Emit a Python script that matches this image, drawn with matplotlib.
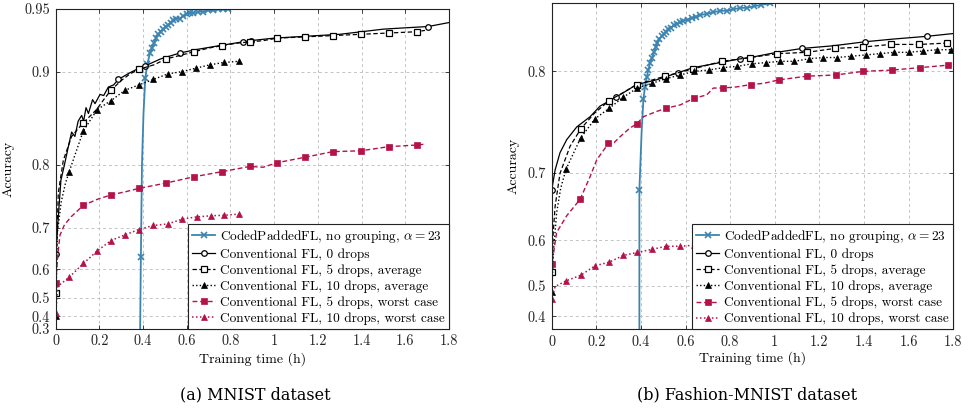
import numpy as np
import matplotlib.pyplot as plt
from matplotlib.lines import Line2D
from matplotlib.ticker import FixedLocator, FuncFormatter, NullLocator

plt.rcParams['font.family'] = 'cmr10'
plt.rcParams['mathtext.fontset'] = 'cm'
plt.rcParams['axes.formatter.use_mathtext'] = True
plt.rcParams['axes.unicode_minus'] = False

labels = ['CodedPaddedFL, no grouping, $\\alpha = 23$',
          'Conventional FL, 0 drops',
          'Conventional FL, 5 drops, average',
          'Conventional FL, 10 drops, average',
          'Conventional FL, 5 drops, worst case',
          'Conventional FL, 10 drops, worst case']

# ---- (a) MNIST ----
a_coded_t = [0.386, 0.390, 0.395, 0.402, 0.410, 0.420, 0.432, 0.441, 0.450, 0.460, 0.470, 0.481, 0.493, 0.504,
             0.515, 0.527, 0.538, 0.553, 0.569, 0.584, 0.600, 0.615, 0.630, 0.653, 0.676, 0.698, 0.721, 0.745,
             0.768, 0.790]
a_coded_acc = [0.10, 0.635, 0.80, 0.86, 0.894, 0.907, 0.916, 0.920, 0.924, 0.928, 0.931, 0.933, 0.935, 0.937,
               0.938, 0.940, 0.942, 0.943, 0.943, 0.945, 0.946, 0.947, 0.947, 0.948, 0.948, 0.949, 0.949, 0.950,
               0.950, 0.950]
a_d0_t = [0.0, 0.0, 0.012, 0.024, 0.04, 0.058, 0.073, 0.088, 0.103, 0.119, 0.128, 0.139, 0.15, 0.169, 0.18,
          0.203, 0.22, 0.241, 0.265, 0.287, 0.33, 0.37, 0.409, 0.48, 0.569, 0.65, 0.75, 0.856, 0.892, 1.0, 1.1,
          1.2, 1.3, 1.4, 1.5, 1.6, 1.705, 1.8]
a_d0_acc = [0.10, 0.642, 0.72, 0.779, 0.80, 0.823, 0.840, 0.835, 0.852, 0.858, 0.852, 0.866, 0.860, 0.874,
            0.870, 0.879, 0.878, 0.886, 0.888, 0.893, 0.898, 0.902, 0.905, 0.911, 0.916, 0.919, 0.922, 0.925,
            0.926, 0.928, 0.929, 0.930, 0.931, 0.933, 0.935, 0.936, 0.937, 0.940]
a_d5_t = [0.0, 0.0, 0.006, 0.012, 0.035, 0.073, 0.1, 0.126, 0.187, 0.22, 0.253, 0.3, 0.34, 0.380, 0.45, 0.506,
          0.57, 0.634, 0.7, 0.761, 0.83, 0.888, 0.95, 1.014, 1.142, 1.269, 1.396, 1.524, 1.652, 1.69]
a_d5_acc = [0.10, 0.518, 0.68, 0.76, 0.806, 0.835, 0.843, 0.850, 0.864, 0.874, 0.883, 0.892, 0.898, 0.902,
            0.906, 0.911, 0.914, 0.917, 0.920, 0.922, 0.924, 0.925, 0.926, 0.928, 0.929, 0.930, 0.931, 0.932,
            0.933, 0.934]
a_d10_t = [0.0, 0.0, 0.008, 0.025, 0.045, 0.062, 0.126, 0.190, 0.253, 0.317, 0.381, 0.447, 0.513, 0.577, 0.641,
           0.706, 0.770, 0.838]
a_d10_acc = [0.10, 0.40, 0.69, 0.745, 0.775, 0.791, 0.841, 0.864, 0.873, 0.883, 0.888, 0.893, 0.898, 0.900,
             0.903, 0.906, 0.908, 0.909]
a_w5_t = [0.0, 0.0, 0.01, 0.02, 0.04, 0.07, 0.126, 0.19, 0.253, 0.32, 0.380, 0.506, 0.634, 0.761, 0.888, 0.95,
          1.014, 1.142, 1.269, 1.396, 1.524, 1.652, 1.69]
a_w5_acc = [0.10, 0.558, 0.64, 0.685, 0.705, 0.720, 0.740, 0.750, 0.757, 0.762, 0.767, 0.775, 0.784, 0.791,
            0.798, 0.797, 0.803, 0.810, 0.817, 0.818, 0.823, 0.825, 0.826]
a_w10_t = [0.0, 0.0, 0.01, 0.062, 0.127, 0.190, 0.253, 0.317, 0.380, 0.447, 0.514, 0.579, 0.645, 0.709, 0.772,
           0.837]
a_w10_acc = [0.10, 0.419, 0.545, 0.576, 0.617, 0.649, 0.673, 0.685, 0.696, 0.704, 0.707, 0.716, 0.720, 0.722,
             0.723, 0.725]

# ---- (b) Fashion-MNIST ----
b_coded_t = [0.393, 0.393, 0.396, 0.403, 0.411, 0.418, 0.426, 0.433, 0.441, 0.450, 0.459, 0.466, 0.474, 0.483,
             0.493, 0.503, 0.513, 0.523, 0.534, 0.547, 0.561, 0.575, 0.590, 0.609, 0.628, 0.646, 0.665, 0.695,
             0.725, 0.755, 0.785, 0.815, 0.845, 0.875, 0.905, 0.94, 0.98]
b_coded_acc = [0.10, 0.678, 0.70, 0.745, 0.776, 0.787, 0.795, 0.801, 0.807, 0.811, 0.815, 0.819, 0.822, 0.825,
               0.827, 0.829, 0.830, 0.832, 0.833, 0.835, 0.836, 0.837, 0.838, 0.839, 0.840, 0.841, 0.842, 0.843,
               0.844, 0.845, 0.845, 0.846, 0.847, 0.847, 0.848, 0.849, 0.850]
b_d0_t = [0.0, 0.0, 0.015, 0.037, 0.067, 0.112, 0.172, 0.217, 0.288, 0.381, 0.471, 0.568, 0.635, 0.755, 0.845,
          0.89, 1.009, 1.124, 1.263, 1.406, 1.533, 1.682, 1.8]
b_d0_acc = [0.10, 0.678, 0.703, 0.723, 0.737, 0.750, 0.760, 0.770, 0.778, 0.789, 0.793, 0.799, 0.803, 0.807,
            0.810, 0.811, 0.815, 0.818, 0.820, 0.823, 0.825, 0.827, 0.829]
b_d5_t = [0.0, 0.0, 0.006, 0.015, 0.037, 0.082, 0.130, 0.19, 0.258, 0.32, 0.381, 0.508, 0.635, 0.763, 0.891,
          1.012, 1.144, 1.271, 1.395, 1.521, 1.648, 1.772]
b_d5_acc = [0.10, 0.535, 0.61, 0.655, 0.699, 0.730, 0.748, 0.763, 0.775, 0.782, 0.789, 0.796, 0.802, 0.808,
            0.811, 0.814, 0.815, 0.818, 0.819, 0.821, 0.821, 0.822]
b_d10_t = [0.0, 0.0, 0.008, 0.022, 0.040, 0.064, 0.130, 0.194, 0.258, 0.321, 0.384, 0.449, 0.513, 0.576, 0.640,
           0.704, 0.768, 0.832, 0.896, 0.960, 1.024, 1.088, 1.152, 1.216, 1.280, 1.344, 1.408, 1.472, 1.536,
           1.600, 1.664, 1.728, 1.792]
b_d10_acc = [0.10, 0.483, 0.58, 0.646, 0.68, 0.704, 0.739, 0.758, 0.768, 0.778, 0.786, 0.790, 0.794, 0.797,
             0.800, 0.801, 0.803, 0.804, 0.806, 0.807, 0.808, 0.808, 0.810, 0.811, 0.811, 0.812, 0.813, 0.814,
             0.815, 0.815, 0.816, 0.817, 0.817]
b_w5_t = [0.0, 0.0, 0.022, 0.067, 0.127, 0.172, 0.202, 0.254, 0.28, 0.306, 0.351, 0.381, 0.411, 0.471, 0.513,
          0.576, 0.638, 0.695, 0.725, 0.767, 0.83, 0.893, 0.95, 1.021, 1.144, 1.273, 1.398, 1.525, 1.652, 1.779]
b_w5_acc = [0.10, 0.552, 0.614, 0.641, 0.665, 0.695, 0.715, 0.733, 0.734, 0.740, 0.749, 0.753, 0.760, 0.765,
            0.768, 0.771, 0.777, 0.780, 0.786, 0.786, 0.787, 0.789, 0.790, 0.793, 0.796, 0.797, 0.800, 0.801,
            0.803, 0.805]
b_w10_t = [0.0, 0.0, 0.015, 0.064, 0.130, 0.194, 0.258, 0.321, 0.384, 0.449, 0.513, 0.576, 0.640, 0.8, 1.0,
           1.2, 1.4, 1.6, 1.79]
b_w10_acc = [0.10, 0.461, 0.498, 0.513, 0.527, 0.549, 0.557, 0.571, 0.577, 0.583, 0.589, 0.589, 0.591, 0.594,
             0.597, 0.600, 0.603, 0.606, 0.609]

BLUE = '#3d85b0'
RED = '#b2134a'
styles = [
    dict(color=BLUE, ls='-', lw=1.3, marker='x', ms=5, mew=1.2, mfc=BLUE),
    dict(color='black', ls='-', lw=0.9, marker='o', ms=4, mew=0.9, mfc='white'),
    dict(color='black', ls=(0, (3.5, 2)), lw=0.9, marker='s', ms=4.3, mew=0.9, mfc='white'),
    dict(color='black', ls=(0, (1, 1.6)), lw=1.0, marker='^', ms=4.3, mew=0.5, mfc='black'),
    dict(color=RED, ls=(0, (3.5, 2)), lw=1.0, marker='s', ms=5, mew=0.5, mfc=RED),
    dict(color=RED, ls=(0, (1, 1.6)), lw=1.1, marker='^', ms=4.5, mew=0.5, mfc=RED),
]


def fwd(y):
    return np.exp(4.0 * np.asarray(y, dtype=float))


def inv(y):
    with np.errstate(divide='ignore', invalid='ignore'):
        return np.log(np.asarray(y, dtype=float)) / 4.0


def draw(ax, series, marks, ylim, yticks):
    ax.set_yscale('function', functions=(fwd, inv))
    for (t, acc), mk, st in zip(series, marks, styles):
        ax.plot(t, acc, markevery=mk, clip_on=True, **st)
    ax.set_xlim(0, 1.8)
    ax.set_ylim(*ylim)
    ax.xaxis.set_major_locator(FixedLocator(np.arange(0, 1.81, 0.2)))
    ax.xaxis.set_major_formatter(FuncFormatter(lambda v, p: '%g' % round(v, 2)))
    ax.yaxis.set_major_locator(FixedLocator(yticks))
    ax.yaxis.set_major_formatter(FuncFormatter(lambda v, p: '%g' % round(v, 2)))
    ax.xaxis.set_minor_locator(NullLocator())
    ax.yaxis.set_minor_locator(NullLocator())
    ax.grid(True, color='#c4c4c4', ls=(0, (3, 3)), lw=0.7)
    ax.set_axisbelow(True)
    ax.tick_params(direction='in', length=3, width=0.6, top=True, right=True,
                   labelsize=10.3, pad=4, colors='#222222')
    for s in ax.spines.values():
        s.set_linewidth(0.8)
        s.set_color('#222222')
    ax.set_xlabel('Training time (h)', fontsize=10)
    ax.set_ylabel('Accuracy', fontsize=10)
    handles = [Line2D([], [], **st) for st in styles]
    leg = ax.legend(handles, labels, loc='lower right', borderaxespad=0, fontsize=9.6,
                    frameon=True, fancybox=False, edgecolor='#222222', framealpha=1,
                    handlelength=1.7, handletextpad=0.4, labelspacing=0.26, borderpad=0.3)
    leg.get_frame().set_linewidth(0.8)


fig = plt.figure(figsize=(9.68, 4.11), dpi=100)
ax1 = fig.add_axes([0.0575, 0.1995, 0.4063, 0.7786])
ax2 = fig.add_axes([0.570, 0.1988, 0.4146, 0.793])

series_a = [(a_coded_t, a_coded_acc), (a_d0_t, a_d0_acc), (a_d5_t, a_d5_acc),
            (a_d10_t, a_d10_acc), (a_w5_t, a_w5_acc), (a_w10_t, a_w10_acc)]
marks_a = [[1] + list(range(4, len(a_coded_t))),
           [1, 19, 22, 24, 27, 28, 36],
           [1, 7, 10, 13, 15, 17, 19, 21, 23, 24, 25, 26, 27, 28],
           [1] + list(range(5, len(a_d10_t))),
           [1, 6, 8, 10, 11, 12, 13, 14, 16, 17, 18, 19, 20, 21],
           [1] + list(range(3, len(a_w10_t)))]
draw(ax1, series_a, marks_a, (0.3, 0.95), [0.3, 0.4, 0.5, 0.6, 0.7, 0.8, 0.9, 0.95])
ax1.yaxis.set_label_coords(-0.1035, 0.5)
ax1.xaxis.set_label_coords(0.5, -0.071)

series_b = [(b_coded_t, b_coded_acc), (b_d0_t, b_d0_acc), (b_d5_t, b_d5_acc),
            (b_d10_t, b_d10_acc), (b_w5_t, b_w5_acc), (b_w10_t, b_w10_acc)]
marks_b = [[1] + list(range(4, len(b_coded_t))),
           [1, 8, 11, 14, 15, 17, 19, 21],
           [1, 6, 8, 10, 11, 12, 13, 14, 15, 16, 17, 18, 19, 20, 21],
           [1] + list(range(5, len(b_d10_t))),
           [1, 4, 7, 11, 14, 16, 19, 21, 23, 24, 25, 26, 27, 28, 29],
           [1] + list(range(3, len(b_w10_t)))]
draw(ax2, series_b, marks_b, (0.341, 0.85), [0.4, 0.5, 0.6, 0.7, 0.8])
ax2.yaxis.set_label_coords(-0.081, 0.5)
ax2.xaxis.set_label_coords(0.5, -0.067)

fig.text(255 / 968, 1 - 395 / 411, '(a) MNIST dataset', ha='center', va='center',
         fontsize=11.5, family='DejaVu Serif')
fig.text(747.5 / 968, 1 - 395 / 411, '(b) Fashion-MNIST dataset', ha='center', va='center',
         fontsize=11.5, family='DejaVu Serif')

fig.savefig('out.png', dpi=100)
